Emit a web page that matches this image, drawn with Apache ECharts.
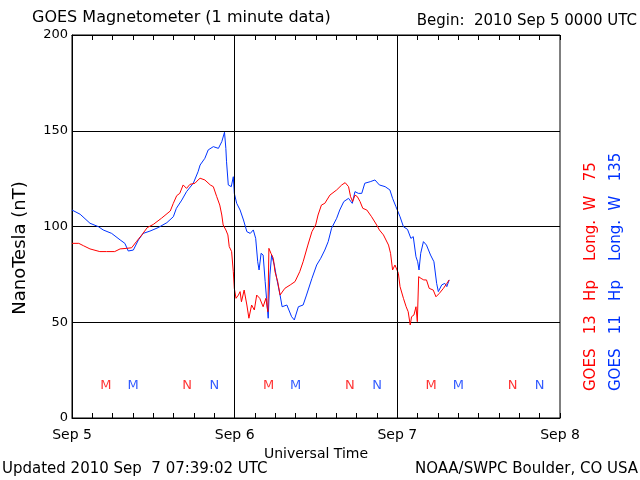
<!DOCTYPE html>
<html><head><meta charset="utf-8">
<script src="https://cdn.jsdelivr.net/npm/echarts@6/dist/echarts.min.js"></script>
<style>html,body{margin:0;padding:0;background:#fff}#c{width:640px;height:480px}</style>
</head><body><div id="c"></div>
<script>
// Hours since 2010 Sep 5 00:00 UTC
const xTickLabels = ['Sep 5', 'Sep 6', 'Sep 7', 'Sep 8'];
const dayLines = [24, 48];
const yTicks = [0, 50, 100, 150, 200];

const redHours = [0, 1.0, 1.67, 2.65, 4.1, 5.1, 6.3, 7.1, 8.1, 8.8, 9.5, 10.3, 11.1, 12, 13.2, 14.5, 14.95, 15.45, 15.9, 16.4, 16.9, 17.4, 18.15, 18.6, 18.9, 19.6, 20.4, 20.85, 21.35, 21.8, 22.1, 22.3, 22.7, 23, 23.2, 23.55, 23.8, 23.95, 24.2, 24.55, 24.8, 25, 25.4, 25.8, 26.1, 26.5, 26.9, 27.25, 27.7, 28.2, 28.6, 28.9, 29.05, 29.35, 29.7, 29.95, 30.35, 30.7, 30.9, 31.4, 32.2, 32.9, 33.6, 34.1, 34.8, 35.4, 35.95, 36.3, 36.8, 37.3, 38.05, 39.05, 39.8, 40.3, 40.8, 41.1, 41.4, 41.75, 42.1, 42.5, 42.9, 43.5, 44.2, 44.95, 45.35, 45.95, 46.7, 47, 47.3, 47.65, 47.9, 48.15, 48.4, 48.9, 49.3, 49.6, 49.9, 50.1, 50.45, 50.75, 50.95, 51.15, 51.5, 51.9, 52.3, 52.7, 53.3, 53.7, 54.2, 54.8, 55.3, 55.65];
const redValues = [91.2, 91.2, 90, 88.3, 86.9, 86.9, 86.9, 88.3, 88.6, 88.9, 92.1, 95.6, 99.4, 101.1, 104.3, 108.1, 112.1, 116.1, 117.3, 121.7, 119.9, 122, 122.6, 124.3, 125.2, 124.3, 121.7, 120.8, 115.6, 111.2, 106, 100.8, 98.2, 95.6, 89.5, 86.9, 76.4, 67.7, 62.5, 64.2, 66, 60.7, 66.8, 59, 52.1, 59, 56.4, 64.2, 62.5, 58.1, 62.5, 55.5, 88.6, 86, 83.4, 76.4, 71.2, 64.2, 63.3, 67.7, 69.5, 71.2, 76.4, 81.6, 90.3, 97.3, 100.8, 106, 111.2, 112.1, 116.4, 119.1, 121.7, 122.9, 120.8, 115.6, 113, 116.4, 115.6, 113, 109.5, 108.6, 105.1, 100.8, 98.2, 95.6, 90.3, 86, 77.3, 79.9, 80.8, 75.6, 68.6, 62.5, 58.1, 55.5, 48.6, 52.9, 53.8, 58.1, 50.3, 73.8, 72.9, 72.1, 72.1, 67.7, 66.8, 63.3, 65.1, 67.7, 70.3, 72.1];

const blueHours = [0, 1.2, 2.65, 3.9, 4.6, 5.85, 7.1, 7.8, 8.3, 9.05, 9.8, 10.5, 11.5, 12.7, 14, 14.95, 15.4, 16.2, 16.9, 17.9, 18.6, 18.9, 19.6, 20.1, 20.85, 21.6, 22.1, 22.5, 22.7, 22.8, 23.06, 23.5, 23.8, 23.95, 24.3, 24.8, 25.3, 25.8, 26.3, 26.75, 27.1, 27.4, 27.6, 27.9, 28.2, 28.5, 28.7, 28.95, 29.2, 29.45, 29.85, 30.2, 30.7, 31, 31.7, 32.4, 32.8, 33.4, 34.1, 34.6, 35.4, 36.1, 36.7, 37.3, 37.8, 38.3, 39.05, 39.5, 40.1, 40.8, 41.35, 41.75, 42.25, 42.75, 43.2, 44, 44.7, 45.35, 46.2, 46.9, 47.3, 47.8, 48.4, 48.9, 49.5, 50, 50.35, 50.75, 51, 51.2, 51.45, 51.85, 52.3, 52.9, 53.4, 53.8, 54.05, 54.55, 55, 55.3, 55.65];
const blueValues = [108.6, 106.4, 101.7, 99.9, 98.2, 96.4, 93, 91.2, 87.2, 87.7, 93, 96.4, 97.6, 99.4, 102, 105.1, 109.5, 113.8, 118.2, 122.6, 128.6, 132.1, 135.6, 140, 141.7, 140.8, 144.3, 149.2, 140.8, 133.8, 121.7, 120.8, 126, 117.3, 112.1, 108.6, 103.4, 97.3, 96.4, 98.2, 93.8, 81.6, 77.3, 86, 85.1, 71.2, 62.5, 52.1, 74.7, 85.1, 79.9, 72.9, 64.2, 58.1, 59, 52.9, 51.2, 58.1, 59, 64.2, 72.9, 79.9, 83.4, 87.7, 92.1, 99.1, 104.3, 108.6, 113, 114.7, 112.1, 118.2, 117.3, 117.3, 122.6, 123.4, 124.3, 121.7, 120.8, 119.1, 114.7, 110.3, 105.1, 99.9, 98.5, 93.8, 94.7, 84.2, 81.6, 77.3, 86, 92.1, 90.3, 85.1, 81.6, 70.3, 66, 69.5, 70.3, 68.6, 72.1];

// Local midnight (M) and noon (N) markers
const markerLevel = 16.7;
const redMarkerHours = [5, 17, 29, 41, 53, 65];
const blueMarkerHours = [9, 21, 33, 45, 57, 69];
const markerLetters = ['M', 'N', 'M', 'N', 'M', 'N'];

const RED = '#ff0000';
const BLUE = '#0033ff';
const FONT = 'DejaVu Sans';

const pairs = (xs, ys) => xs.map((x, i) => [x, ys[i]]);
const markers = (xs) => xs.map((x, i) => ({ value: [x, markerLevel], name: markerLetters[i] }));

const xBase = {
  type: 'value', min: 0, max: 72, interval: 3,
  axisLine: { show: true, lineStyle: { color: '#000', width: 1 } },
  axisTick: { show: true, inside: true, length: 5, lineStyle: { color: '#000', width: 1 } },
  splitLine: { show: false }
};

const chart = echarts.init(document.getElementById('c'), null, { renderer: 'canvas' });
const option = {
  animation: false,
  backgroundColor: '#fff',
  grid: { left: 72, right: 80, top: 35, bottom: 62, show: true, borderColor: '#000', borderWidth: 1, backgroundColor: 'transparent' },
  xAxis: [Object.assign({}, xBase, {
    position: 'bottom',
    axisLabel: { color: '#000', fontFamily: FONT, fontSize: 14, margin: 10, showMinLabel: true, showMaxLabel: true,
      formatter: v => (v % 24 === 0 ? xTickLabels[v / 24] : '') },
    name: 'Universal Time', nameLocation: 'middle', nameGap: 20,
    nameTextStyle: { color: '#000', fontFamily: FONT, fontSize: 14 }
  }), Object.assign({}, xBase, {
    position: 'top',
    axisLabel: { show: false }
  })],
  yAxis: {
    type: 'value', min: yTicks[0], max: yTicks[yTicks.length - 1], interval: 50,
    axisLine: { show: true, lineStyle: { color: '#000', width: 1 } },
    axisTick: { show: false },
    axisLabel: { color: '#000', fontFamily: FONT, fontSize: 13, margin: 4 },
    splitLine: { show: true, lineStyle: { color: '#000', width: 1 } }
  },
  series: [
    { type: 'line', data: pairs(blueHours, blueValues), showSymbol: false, lineStyle: { color: BLUE, width: 1 }, itemStyle: { color: BLUE },
      markLine: { silent: true, symbol: ['none', 'none'], label: { show: false },
        lineStyle: { color: '#000', width: 1, type: 'solid' },
        data: dayLines.map(d => ({ xAxis: d })) } },
    { type: 'line', data: pairs(redHours, redValues), showSymbol: false, lineStyle: { color: RED, width: 1 }, itemStyle: { color: RED } },
    { type: 'scatter', data: markers(redMarkerHours), symbolSize: 0, itemStyle: { color: 'transparent' },
      label: { show: true, position: 'inside', formatter: '{b}', color: RED, fontFamily: FONT, fontSize: 13 } },
    { type: 'scatter', data: markers(blueMarkerHours), symbolSize: 0, itemStyle: { color: 'transparent' },
      label: { show: true, position: 'inside', formatter: '{b}', color: BLUE, fontFamily: FONT, fontSize: 13 } }
  ],
  graphic: [
    { type: 'text', left: 32, top: 10, style: { text: 'GOES Magnetometer (1 minute data)', fill: '#000', font: '16px "DejaVu Sans"' } },
    { type: 'text', right: 3, top: 14, style: { text: 'Begin:  2010 Sep 5 0000 UTC', fill: '#000', font: '15px "DejaVu Sans"' } },
    { type: 'text', left: 2, top: 462, style: { text: 'Updated 2010 Sep  7 07:39:02 UTC', fill: '#000', font: '15px "DejaVu Sans"' } },
    { type: 'text', right: 2, top: 462, style: { text: 'NOAA/SWPC Boulder, CO USA', fill: '#000', font: '15px "DejaVu Sans"' } },
    { type: 'text', x: 20, y: 248, rotation: Math.PI / 2, style: { text: 'NanoTesla (nT)', fill: '#000', font: '18px "DejaVu Sans"', align: 'center', verticalAlign: 'middle' } },
    { type: 'text', x: 591, y: 391, rotation: Math.PI / 2, style: { text: 'GOES   13   Hp    Long.  W   75', fill: RED, font: '15px "DejaVu Sans"', align: 'left', verticalAlign: 'middle' } },
    { type: 'text', x: 616, y: 391, rotation: Math.PI / 2, style: { text: 'GOES   11   Hp    Long.  W   135', fill: BLUE, font: '15px "DejaVu Sans"', align: 'left', verticalAlign: 'middle' } }
  ]
};
chart.setOption(option);
</script>
</body></html>
